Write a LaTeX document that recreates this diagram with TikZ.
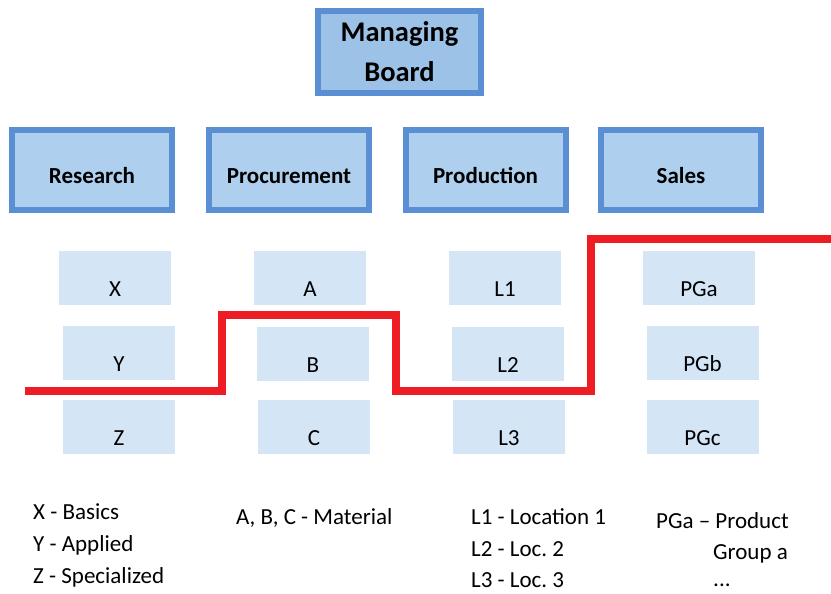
\documentclass[tikz,border=0pt]{standalone}
\usepackage{fontspec}
\setmainfont{Carlito}
\frenchspacing
\definecolor{mbfill}{HTML}{9CC2E8}
\definecolor{depfill}{HTML}{AECFEE}
\definecolor{boxborder}{HTML}{5B8FD3}
\definecolor{subfill}{HTML}{D4E5F6}
\definecolor{divred}{HTML}{EE1D24}
\begin{document}
\begin{tikzpicture}[x=1pt,y=-1pt,
  board/.style={draw=boxborder,line width=6pt,fill=mbfill,minimum width=163pt,minimum height=82pt,
    inner sep=0pt,align=center,font=\fontsize{28.5}{40}\selectfont\bfseries},
  dept/.style={draw=boxborder,line width=6pt,fill=depfill,minimum width=160pt,minimum height=80pt,
    inner sep=0pt,text height=29pt,text depth=2pt,font=\fontsize{23}{28}\selectfont\bfseries},
  sub/.style={fill=subfill,minimum width=112pt,minimum height=54pt,inner sep=0pt,
    text height=38pt,text depth=1pt,font=\fontsize{23}{28}\selectfont},
  legend/.style={anchor=base west,inner sep=0pt,font=\fontsize{23}{28}\selectfont},
  divider/.style={draw=divred,line width=8pt,line join=miter}]
\useasboundingbox (0,0) rectangle (831,594);
\fill[white] (0,0) rectangle (831,594);

\node[board] (mb) at (399.5,52) {Managing\\Board};

\node[dept] (res) at (92,170) {Research};
\node[dept] (proc) at (289,170) {Procurement};
\node[dept] (prod) at (485.5,170) {Production};
\node[dept] (sales) at (681,170) {Sales};

\node[sub] (x) at (115,278) {X};
\node[sub] (y) at (119,353) {Y};
\node[sub] (z) at (119,426.5) {Z};
\node[sub] (a) at (310,278) {A};
\node[sub] (b) at (313,353.5) {B};
\node[sub] (c) at (314,426.5) {C};
\node[sub] (l1) at (505,277.5) {L1};
\node[sub] (l2) at (508,353.5) {L2};
\node[sub] (l3) at (509,426.5) {L3};
\node[sub] (pga) at (699,278) {PGa};
\node[sub] (pgb) at (702.5,353) {PGb};
\node[sub] (pgc) at (702.5,426.5) {PGc};

\coordinate (r0) at (25,391);
\coordinate (r1) at (222,391);
\coordinate (r2) at (222,315);
\coordinate (r3) at (396,315);
\coordinate (r4) at (396,391);
\coordinate (r5) at (591,391);
\coordinate (r6) at (591,239);
\coordinate (r7) at (831,239);
\draw[divider] (r0) -- (r1) -- (r2) -- (r3) -- (r4) -- (r5) -- (r6) -- (r7);

\node[legend] (lx) at (33,519) {X - Basics};
\node[legend] (ly) at (33,551) {Y - Applied};
\node[legend] (lz) at (33,583) {Z - Specialized};
\node[legend] (labc) at (236,524) {A, B, C - Material};
\node[legend] (ll1) at (471,524) {L1 - Location 1};
\node[legend] (ll2) at (471,556) {L2 - Loc. 2};
\node[legend] (ll3) at (471,587) {L3 - Loc. 3};
\node[legend] (lpga) at (656,528) {PGa – Product};
\node[legend] (lgrp) at (713,559) {Group a};
\node[legend] (ldots) at (713,586) {...};
\end{tikzpicture}
\end{document}
